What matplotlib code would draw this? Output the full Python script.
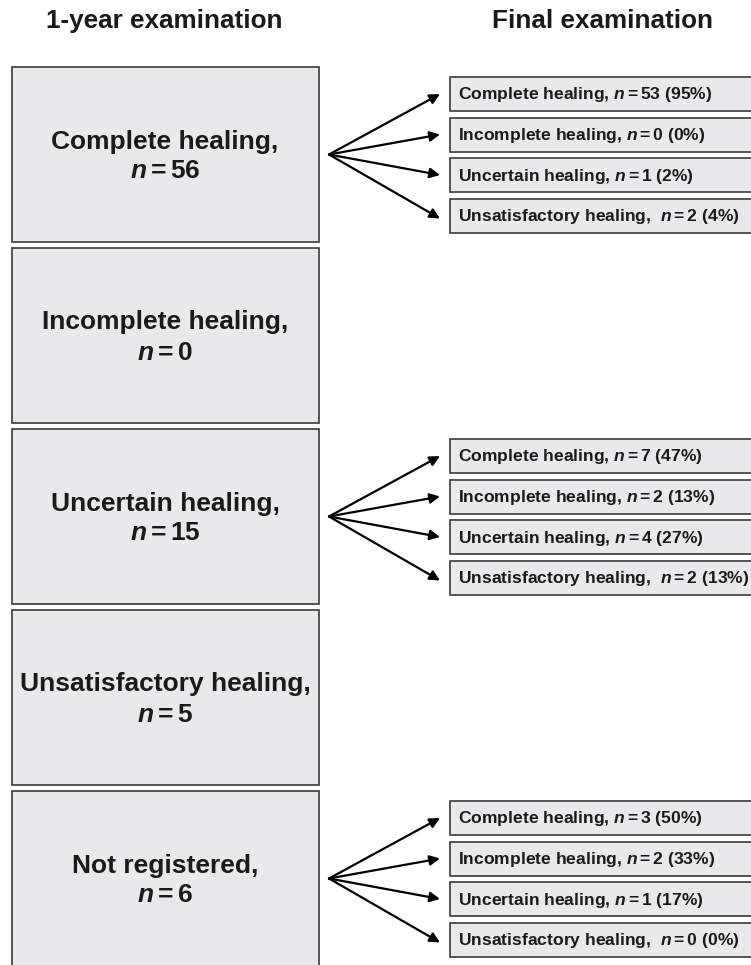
import matplotlib.pyplot as plt
from matplotlib.patches import Rectangle

plt.rcParams['font.family'] = ['Liberation Sans', 'DejaVu Sans']
plt.rcParams['mathtext.fontset'] = 'custom'
plt.rcParams['mathtext.rm'] = 'Liberation Sans:bold'
plt.rcParams['mathtext.bf'] = 'Liberation Sans:bold'
plt.rcParams['mathtext.bfit'] = 'Liberation Sans:italic:bold'

# 1-year examination
year1_labels = ["Complete healing,", "Incomplete healing,", "Uncertain healing,",
                "Unsatisfactory healing,", "Not registered,"]
year1_n = [56, 0, 15, 5, 6]

# final examination (only for groups with follow-up arrows)
final_labels = ["Complete healing,", "Incomplete healing,", "Uncertain healing,",
                "Unsatisfactory healing, "]
final_groups = [0, 2, 4]
final_n = [[53, 0, 1, 2],
           [7, 2, 4, 2],
           [3, 2, 1, 0]]
final_pct = [[95, 0, 2, 4],
             [47, 13, 27, 13],
             [50, 33, 17, 0]]

fig = plt.figure(figsize=(7.51, 9.65), dpi=100)
ax = fig.add_axes([0, 0, 1, 1])
ax.set_xlim(0, 751)
ax.set_ylim(965, 0)
ax.axis('off')

fill = '#e9e9eb'
edge = '#3a3a3a'
ink = '#1a1a1a'


def n_text(n):
    # italic n with tight "=" like the original
    return r"$\mathbfit{n}\,$=" + r"$\,$" + str(n)


# column titles
ax.text(164, 28, "1-year examination", ha='center', va='baseline', fontsize=18.8,
        fontweight='bold', color=ink)
ax.text(602, 28, "Final examination", ha='center', va='baseline', fontsize=18.8,
        fontweight='bold', color=ink)

# left boxes
top0, box_h, pitch = 67, 175, 181
centers = []
for i, (lab, n) in enumerate(zip(year1_labels, year1_n)):
    top = top0 + i * pitch
    ax.add_patch(Rectangle((12, top), 307, box_h, facecolor=fill, edgecolor=edge, lw=1.2))
    yc = top + box_h / 2
    centers.append(yc)
    ax.text(165, yc - 13, lab, ha='center', va='center', fontsize=19, fontweight='bold', color=ink)
    ax.text(165, yc + 17, n_text(n), ha='center', va='center', fontsize=19,
            fontweight='bold', color=ink)

# right boxes and arrows
offsets = [-60.5, -20, 20.5, 61]
for g, gi in enumerate(final_groups):
    yc = centers[gi]
    for k, off in enumerate(offsets):
        ry = yc + off
        ax.add_patch(Rectangle((450, ry - 17), 320, 34, facecolor=fill, edgecolor=edge, lw=1.2,
                               clip_on=False))
        txt = (final_labels[k] + " " + n_text(final_n[g][k]) +
               " (" + str(final_pct[g][k]) + "%)")
        ax.text(458, ry + 1, txt, ha='left', va='center', fontsize=12.6, fontweight='bold',
                color=ink)
        ax.annotate("", xy=(440, ry + (3 if k == 3 else 0)), xytext=(329, yc),
                    arrowprops=dict(arrowstyle='-|>', color='black', lw=1.6,
                                    mutation_scale=15, shrinkA=0, shrinkB=0))

fig.savefig("out.png", dpi=100)
